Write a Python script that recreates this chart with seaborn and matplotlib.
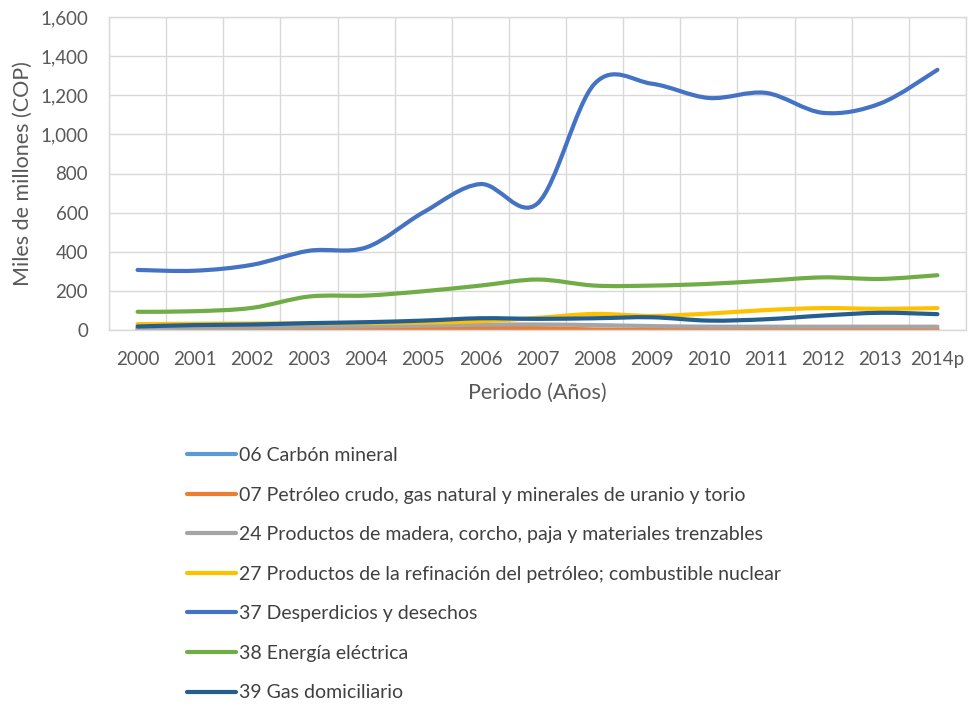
import numpy as np
import pandas as pd
import seaborn as sns
import matplotlib
matplotlib.use("Agg")
import matplotlib.pyplot as plt
from matplotlib.path import Path
from matplotlib.patches import PathPatch
from matplotlib.lines import Line2D

years = ["2000", "2001", "2002", "2003", "2004", "2005", "2006", "2007",
         "2008", "2009", "2010", "2011", "2012", "2013", "2014p"]

s06 = [1, 1, 1, 1, 2, 2, 2, 2, 1, 1, 1, 1, 1, 1, 1]
s07 = [3, 4, 5, 6, 8, 10, 12, 10, 2, 1, 1, 1, 1, 1, 1]
s24 = [10, 12, 14, 16, 18, 22, 27, 28, 25, 20, 17, 17, 17, 17, 17]
s27 = [30, 32, 33, 34, 35, 38, 45, 62, 82, 72, 84, 102, 112, 108, 112]
s37 = [307, 303, 333, 405, 422, 601, 746, 647, 1259, 1259, 1186, 1212, 1110, 1158, 1330]
s38 = [93, 96, 113, 171, 176, 198, 227, 258, 227, 227, 236, 252, 269, 261, 280]
s39 = [18, 25, 28, 35, 40, 48, 60, 57, 60, 65, 48, 55, 74, 88, 81]

names = ["06 Carbón mineral",
         "07 Petróleo crudo, gas natural y minerales de uranio y torio",
         "24 Productos de madera, corcho, paja y materiales trenzables",
         "27 Productos de la refinación del petróleo; combustible nuclear",
         "37 Desperdicios y desechos",
         "38 Energía eléctrica",
         "39 Gas domiciliario"]
colors = ["#5B9BD5", "#ED7D31", "#A5A5A5", "#FFC000", "#4472C4", "#70AD47", "#255E91"]
series = [s06, s07, s24, s27, s37, s38, s39]

rows = []
for name, vals in zip(names, series):
    for i, v in enumerate(vals):
        rows.append({"idx": i, "valor": v, "serie": name})
df = pd.DataFrame(rows)

sns.set_theme(style="white")
plt.rcParams['font.family'] = ['Lato', 'DejaVu Sans']

fig = plt.figure(figsize=(9.69, 7.07), dpi=100)
ax = fig.add_axes([109 / 969, 1 - 330 / 707, (966 - 109) / 969, (330 - 17) / 707])

sns.lineplot(data=df, x="idx", y="valor", hue="serie", palette=dict(zip(names, colors)),
             hue_order=names, linewidth=3, ax=ax, legend=True, sort=False)

# Render each seaborn line as a smoothed curve (Catmull-Rom bezier through the same points)
for line in list(ax.lines):
    xy = line.get_xydata()
    if len(xy) < 2:
        continue
    col = line.get_color()
    n = len(xy)
    verts = [tuple(xy[0])]
    codes = [Path.MOVETO]
    for i in range(n - 1):
        p0 = xy[i - 1] if i > 0 else xy[i]
        p1 = xy[i]
        p2 = xy[i + 1]
        p3 = xy[i + 2] if i + 2 < n else xy[i + 1]
        c1 = p1 + (p2 - p0) / 6.0
        c2 = p2 - (p3 - p1) / 6.0
        verts += [tuple(c1), tuple(c2), tuple(p2)]
        codes += [Path.CURVE4] * 3
    patch = PathPatch(Path(verts, codes), facecolor="none", edgecolor=col,
                      lw=3, capstyle="round", joinstyle="round", zorder=line.get_zorder())
    ax.add_patch(patch)
    line.set_visible(False)

ax.get_legend().remove()

ax.set_xlim(-0.5, len(years) - 0.5)
ax.set_ylim(0, 1600)
ax.set_yticks(np.arange(0, 1601, 200))
ax.set_yticklabels([f"{v:,}" for v in range(0, 1601, 200)])
ax.set_xticks(range(len(years)))
ax.set_xticklabels(years)
ax.set_xticks(np.arange(-0.5, len(years), 1), minor=True)

ax.grid(False)
ax.grid(which="major", axis="y", color="#D9D9D9", lw=1)
ax.grid(which="minor", axis="x", color="#D9D9D9", lw=1)
ax.set_axisbelow(True)
for sp in ax.spines.values():
    sp.set_color("#D9D9D9")
    sp.set_linewidth(1)
ax.tick_params(axis="both", which="both", length=0, labelsize=13.5, colors="#595959")
ax.tick_params(axis="y", pad=15)
ax.tick_params(axis="x", pad=15)

ax.set_xlabel("Periodo (Años)", fontsize=15.5, color="#595959", labelpad=11)
ax.set_ylabel("Miles de millones (COP)", fontsize=15.5, color="#595959", labelpad=5)

leg_handles = [Line2D([0], [0], color=c, lw=3) for c in colors]
fig.legend(leg_handles, names, loc="upper left", bbox_to_anchor=(187 / 969, 1 - 447 / 707),
           frameon=False, fontsize=14, handlelength=2.5, handletextpad=0.15,
           labelspacing=1.16, labelcolor="#404040", borderpad=0, borderaxespad=0)

fig.savefig("out.png", dpi=100)
